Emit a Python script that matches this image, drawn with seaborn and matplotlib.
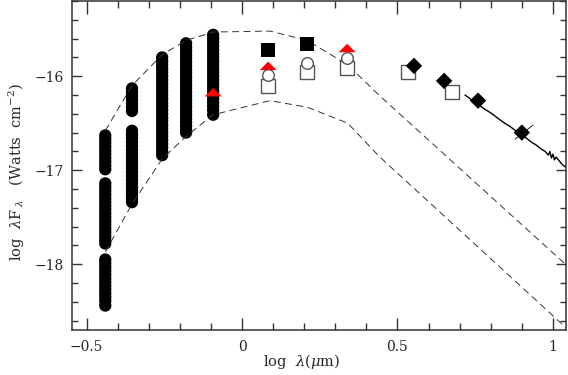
import numpy as np
import pandas as pd
import matplotlib
matplotlib.use("Agg")
import matplotlib.pyplot as plt
import seaborn as sns

# photometry columns (optical bands), many epochs each
col_x = [-0.44, -0.354, -0.257, -0.18, -0.093]
col_y = [
    [-16.63, -16.67, -16.71, -16.75, -16.79, -16.83, -16.87, -16.91, -16.95, -16.99,
     -17.14, -17.18, -17.22, -17.26, -17.30, -17.34, -17.38, -17.42, -17.46, -17.50,
     -17.54, -17.58, -17.62, -17.66, -17.70, -17.74, -17.78,
     -17.95, -17.99, -18.03, -18.07, -18.11, -18.15, -18.19, -18.23, -18.27, -18.31,
     -18.35, -18.39, -18.44],
    [-16.13, -16.17, -16.21, -16.25, -16.29, -16.33, -16.37,
     -16.58, -16.62, -16.66, -16.70, -16.74, -16.78, -16.82, -16.86, -16.90, -16.94,
     -16.98, -17.02, -17.06, -17.10, -17.14, -17.18, -17.22, -17.26, -17.30, -17.34],
    [-15.80, -15.84, -15.88, -15.92, -15.96, -16.00, -16.04, -16.08, -16.12, -16.16,
     -16.20, -16.24, -16.28, -16.32, -16.36, -16.40, -16.44, -16.48, -16.52, -16.56,
     -16.60, -16.64, -16.68, -16.72, -16.76, -16.80, -16.84],
    [-15.65, -15.69, -15.73, -15.77, -15.81, -15.85, -15.89, -15.93, -15.97, -16.01,
     -16.05, -16.09, -16.13, -16.17, -16.21, -16.25, -16.29, -16.33, -16.37, -16.41,
     -16.45, -16.49, -16.53, -16.57, -16.60],
    [-15.56, -15.60, -15.64, -15.68, -15.72, -15.76, -15.80, -15.84, -15.88, -15.92,
     -15.96, -16.00, -16.04, -16.08, -16.12, -16.16, -16.20, -16.24, -16.28, -16.32,
     -16.36, -16.41],
]

# near-IR points
sq_fill_x = [0.084, 0.209]
sq_fill_y = [-15.72, -15.66]
tri_x = [-0.093, 0.084, 0.338]
tri_y = [-16.17, -15.89, -15.70]
circ_x = [0.084, 0.209, 0.338]
circ_y = [-15.99, -15.86, -15.81]
sq_open_x = [0.084, 0.209, 0.338, 0.534, 0.675]
sq_open_y = [-16.10, -15.96, -15.91, -15.95, -16.17]
dia_x = [0.553, 0.65, 0.759, 0.90]
dia_y = [-15.89, -16.05, -16.26, -16.60]

# mid-IR spectrum
spec_x = [0.717, 0.73, 0.745, 0.76, 0.78, 0.80, 0.82, 0.84, 0.86, 0.88, 0.90, 0.915,
          0.93, 0.945, 0.96, 0.975, 0.985, 0.99, 0.995, 1.0, 1.005, 1.01, 1.02, 1.03, 1.042]
spec_y = [-16.20, -16.23, -16.27, -16.30, -16.35, -16.39, -16.44, -16.49, -16.53, -16.58,
          -16.63, -16.66, -16.70, -16.73, -16.77, -16.80, -16.84, -16.80, -16.87, -16.83,
          -16.89, -16.86, -16.90, -16.94, -16.97]
cross_x = [0.878, 0.936]
cross_y = [-16.67, -16.52]

# envelope models
env_x = [-0.44, -0.354, -0.257, -0.18, -0.093, 0.09, 0.21, 0.34, 0.44, 1.05]
env_hi = [-16.58, -16.10, -15.77, -15.62, -15.53, -15.52, -15.62, -15.88, -16.20, -18.03]
env_lo = [-17.87, -17.36, -16.88, -16.64, -16.41, -16.26, -16.33, -16.50, -16.85, -18.70]

sns.set_style("ticks")
plt.rcParams["font.family"] = ["DejaVu Serif"]
plt.rcParams["mathtext.fontset"] = "dejavuserif"
plt.rcParams["lines.scale_dashes"] = False

fig = plt.figure(figsize=(5.68, 3.75), dpi=100)
ax = fig.add_axes([72 / 568, 1 - 330 / 375, (566 - 72) / 568, 329 / 375])

env = pd.DataFrame({"x": env_x * 2, "y": env_hi + env_lo,
                    "curve": ["hi"] * len(env_x) + ["lo"] * len(env_x)})
sns.lineplot(data=env, x="x", y="y", units="curve", estimator=None, sort=False,
             color="#333333", lw=0.7, dashes=False, ax=ax)
for ln in ax.lines:
    ln.set_dashes((5, 3.2))

cols = pd.DataFrame({"x": np.repeat(col_x, [len(c) for c in col_y]),
                     "y": np.concatenate(col_y)})
sns.scatterplot(data=cols, x="x", y="y", s=78, color="black", edgecolor="none", ax=ax)

sns.lineplot(x=spec_x, y=spec_y, sort=False, color="black", lw=1.0, ax=ax)
sns.lineplot(x=cross_x, y=cross_y, sort=False, color="black", lw=0.6, ax=ax)

sns.scatterplot(x=sq_open_x, y=sq_open_y, marker="s", s=95, facecolor="white",
                edgecolor="#555555", linewidth=1.0, ax=ax, zorder=3)
sns.scatterplot(x=circ_x, y=circ_y, marker="o", s=70, facecolor="white",
                edgecolor="#555555", linewidth=1.0, ax=ax, zorder=3)
sns.scatterplot(x=sq_fill_x, y=sq_fill_y, marker="s", s=95, color="black",
                edgecolor="none", ax=ax, zorder=4)
flat_tri = [(-1, -0.5), (1, -0.5), (0, 0.5), (-1, -0.5)]
sns.scatterplot(x=tri_x, y=tri_y, marker=flat_tri, s=150, color="#ff0000",
                edgecolor="none", ax=ax, zorder=5)
sns.scatterplot(x=dia_x, y=dia_y, marker="D", s=70, color="black",
                edgecolor="none", ax=ax, zorder=4)

ax.set_xlim(-0.547, 1.042)
ax.set_ylim(-18.70, -15.20)
ax.set_xticks([-0.5, 0, 0.5, 1])
ax.set_xticklabels(["\u22120.5", "0", "0.5", "1"])
ax.set_xticks(np.arange(-0.5, 1.05, 0.1), minor=True)
ax.set_yticks([-18, -17, -16])
ax.set_yticklabels(["\u221218", "\u221217", "\u221216"])
ax.set_yticks(np.arange(-18.6, -15.2, 0.2), minor=True)
ax.tick_params(axis="both", which="both", direction="in", top=True, right=True,
               labelsize=10, color="#333333", width=1.0)
ax.tick_params(axis="x", which="major", length=9, pad=7)
ax.tick_params(axis="x", which="minor", length=5)
ax.tick_params(axis="y", which="major", length=7, pad=6)
ax.tick_params(axis="y", which="minor", length=4.5)
for sp in ax.spines.values():
    sp.set_linewidth(1.1)
    sp.set_color("#333333")

ax.set_xlabel(r"log  $\lambda$($\mu$m)", fontsize=10.5)
ax.set_ylabel(r"log  $\lambda$F$_{\ \lambda}$   (Watts  cm$^{-2}$)", fontsize=10.5)
ax.xaxis.set_label_coords(0.465, -0.068)
ax.yaxis.set_label_coords(-0.092, 0.48)
ax.legend_ = None

fig.savefig("out.png", dpi=100)
